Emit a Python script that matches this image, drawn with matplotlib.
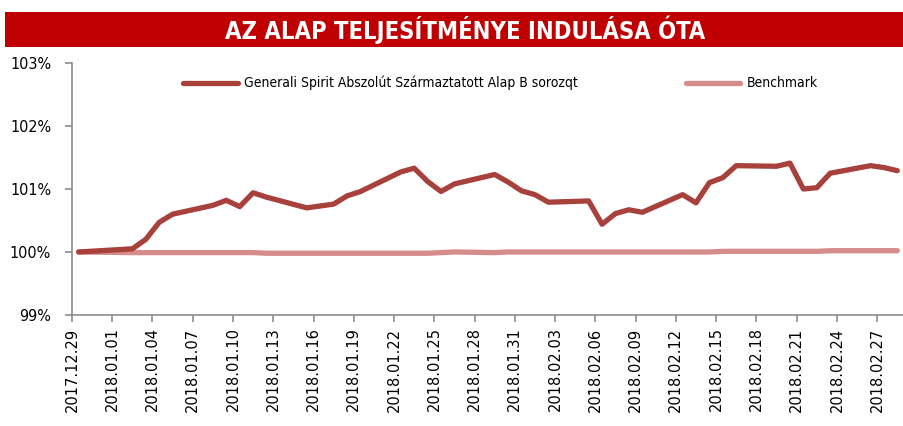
# Alap teljesítménye indulása óta - fund vs benchmark

import pandas as pd
import matplotlib.pyplot as plt
import matplotlib.dates as mdates
from matplotlib.ticker import FuncFormatter

# napi adatok (munkanapok)
dates = ['2017-12-29',
         '2018-01-02', '2018-01-03', '2018-01-04', '2018-01-05',
         '2018-01-08', '2018-01-09', '2018-01-10', '2018-01-11', '2018-01-12',
         '2018-01-15', '2018-01-16', '2018-01-17', '2018-01-18', '2018-01-19',
         '2018-01-22', '2018-01-23', '2018-01-24', '2018-01-25', '2018-01-26',
         '2018-01-29', '2018-01-30', '2018-01-31', '2018-02-01', '2018-02-02',
         '2018-02-05', '2018-02-06', '2018-02-07', '2018-02-08', '2018-02-09',
         '2018-02-12', '2018-02-13', '2018-02-14', '2018-02-15', '2018-02-16',
         '2018-02-19', '2018-02-20', '2018-02-21', '2018-02-22', '2018-02-23',
         '2018-02-26', '2018-02-27', '2018-02-28']

fund = [100.00,
        100.05, 100.20, 100.47, 100.60,
        100.74, 100.82, 100.72, 100.94, 100.87,
        100.70, 100.73, 100.76, 100.89, 100.96,
        101.27, 101.33, 101.12, 100.96, 101.08,
        101.23, 101.11, 100.97, 100.91, 100.79,
        100.81, 100.44, 100.61, 100.67, 100.63,
        100.91, 100.78, 101.10, 101.18, 101.37,
        101.36, 101.41, 101.00, 101.02, 101.25,
        101.37, 101.34, 101.29]

benchmark = [100.00,
             99.99, 99.99, 99.99, 99.99,
             99.99, 99.99, 99.99, 99.99, 99.98,
             99.98, 99.98, 99.98, 99.98, 99.98,
             99.98, 99.98, 99.98, 99.99, 100.00,
             99.99, 100.00, 100.00, 100.00, 100.00,
             100.00, 100.00, 100.00, 100.00, 100.00,
             100.00, 100.00, 100.00, 100.01, 100.01,
             100.01, 100.01, 100.01, 100.01, 100.02,
             100.02, 100.02, 100.02]

tick_dates = ['2017-12-29', '2018-01-01', '2018-01-04', '2018-01-07', '2018-01-10',
              '2018-01-13', '2018-01-16', '2018-01-19', '2018-01-22', '2018-01-25',
              '2018-01-28', '2018-01-31', '2018-02-03', '2018-02-06', '2018-02-09',
              '2018-02-12', '2018-02-15', '2018-02-18', '2018-02-21', '2018-02-24',
              '2018-02-27']

fund_label = 'Generali Spirit Abszolút Származtatott Alap B sorozqt'
bench_label = 'Benchmark'
title = 'AZ ALAP TELJESÍTMÉNYE INDULÁSA ÓTA'

# pontok a nap közepén (Excel dátumtengely)
x = pd.to_datetime(dates) + pd.Timedelta(hours=12)

fig = plt.figure(figsize=(9.04, 4.26), dpi=100)
ax = fig.add_axes([0.0796, 0.2606, 0.9204, 0.5916])

ax.plot(x, fund, color='#A8403C', linewidth=3.8, solid_capstyle='round',
        solid_joinstyle='round', label=fund_label, zorder=3)
ax.plot(x, benchmark, color='#D48C8C', linewidth=3.8, solid_capstyle='round',
        label=bench_label, zorder=2)

ax.set_ylim(99, 103)
ax.set_yticks([99, 100, 101, 102, 103])
ax.yaxis.set_major_formatter(FuncFormatter(lambda v, p: '%d%%' % round(v)))
ax.set_xlim(pd.Timestamp('2017-12-29'), pd.Timestamp('2018-03-01'))
ax.set_xticks(pd.to_datetime(tick_dates))
ax.xaxis.set_major_formatter(mdates.DateFormatter('%Y.%m.%d'))

for s in ['top', 'right']:
    ax.spines[s].set_visible(False)
for s in ['left', 'bottom']:
    ax.spines[s].set_color('#8c8c8c')
    ax.spines[s].set_linewidth(1.2)
ax.tick_params(axis='both', color='#8c8c8c', width=1.2, length=5, direction='out')
ax.tick_params(axis='x', labelrotation=90, labelsize=10.5, pad=4)
ax.tick_params(axis='y', labelsize=11.5, pad=10)
for t in ax.get_yticklabels():
    t.set_stretch('condensed')

leg = ax.legend(loc='upper center', bbox_to_anchor=(0.515, 0.998), ncol=2, frameon=False,
                handlelength=3.9, columnspacing=7.8, handletextpad=0.45,
                prop={'stretch': 'condensed', 'size': 10})

# címsáv
fig.patches.append(plt.Rectangle((0.006, 0.890), 0.994, 0.083, transform=fig.transFigure,
                                 facecolor='#C00000', edgecolor='none'))
fig.text(0.514, 0.931, title, color='white', fontsize=17, fontweight='bold',
         fontstretch='condensed', ha='center', va='center')

plt.savefig('out.png', dpi=100)
